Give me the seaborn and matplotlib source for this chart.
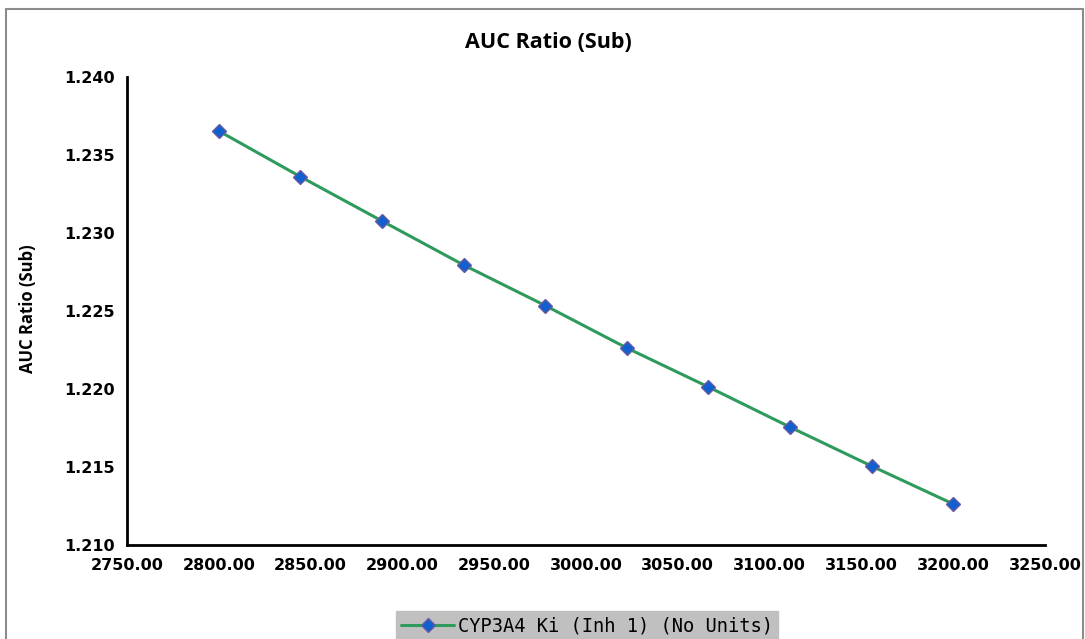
import matplotlib
matplotlib.use("Agg")
import matplotlib.pyplot as plt
import seaborn as sns
import pandas as pd
from matplotlib.patches import Rectangle
from matplotlib.ticker import FormatStrFormatter, MultipleLocator

ki_values = [2800.00, 2844.44, 2888.89, 2933.33, 2977.78, 3022.22, 3066.67, 3111.11, 3155.56, 3200.00]
auc_ratio = [1.23654, 1.23361, 1.23077, 1.22795, 1.22535, 1.22263, 1.22013, 1.21756, 1.21506, 1.21263]
series_name = "CYP3A4 Ki (Inh 1) (No Units)"
title_text = "AUC Ratio (Sub)"
ylabel_text = "AUC Ratio (Sub)"

df = pd.DataFrame({"x": ki_values, "y": auc_ratio, "series": series_name})

sns.set_style("white")
plt.rcParams["font.family"] = ["DejaVu Sans"]
plt.rcParams["text.color"] = "black"

fig = plt.figure(figsize=(10.85, 6.39), dpi=100)
ax = fig.add_axes([127 / 1085, 94 / 639, 918 / 1085, 468 / 639])

sns.lineplot(data=df, x="x", y="y", hue="series", palette=["#2e9a5c"], ax=ax,
             marker="D", markersize=7.5, markerfacecolor="#1060d0",
             markeredgecolor="#6a5aa0", markeredgewidth=1.0, linewidth=2.2,
             legend=False)

ax.set_xlim(2750, 3250)
ax.set_ylim(1.210, 1.240)
ax.xaxis.set_major_locator(MultipleLocator(50))
ax.yaxis.set_major_locator(MultipleLocator(0.005))
ax.xaxis.set_major_formatter(FormatStrFormatter("%.2f"))
ax.yaxis.set_major_formatter(FormatStrFormatter("%.3f"))

for s in ["top", "right"]:
    ax.spines[s].set_visible(False)
for s in ["left", "bottom"]:
    ax.spines[s].set_color("black")
    ax.spines[s].set_linewidth(2.0)

ax.tick_params(axis="both", direction="out", length=5, width=2, color="black",
               labelsize=11.5, labelcolor="black", pad=4)
for lab in ax.get_xticklabels() + ax.get_yticklabels():
    lab.set_fontweight("bold")

ax.set_xlabel("")
ax.set_ylabel(ylabel_text, fontsize=12, fontweight="bold", family="Open Sans",
              color="black")
ax.yaxis.set_label_coords(-90 / 918, 0.505)
fig.text(548 / 1085, 1 - 42 / 639, title_text, ha="center", va="center",
         fontsize=15.5, fontweight="bold", family="Open Sans", color="black")

# figure border
fig.patches.append(Rectangle((6 / 1085, -0.05), 1077 / 1085, (639 - 9) / 639 + 0.05,
                             transform=fig.transFigure, fill=False,
                             edgecolor="#8c8c8c", linewidth=1.5))

handle = ax.lines[0]
leg = fig.legend([handle], [series_name], loc="upper center",
                 bbox_to_anchor=(587 / 1085, 1 - 605 / 639),
                 frameon=True, fancybox=False, facecolor="#c0c0c0",
                 edgecolor="#c0c0c0", handlelength=2.8,
                 handletextpad=0.2, borderpad=0.3, borderaxespad=0.3,
                 framealpha=1,
                 prop={"family": "DejaVu Sans Mono", "size": 13.5})

fig.savefig("out.png", dpi=100)
